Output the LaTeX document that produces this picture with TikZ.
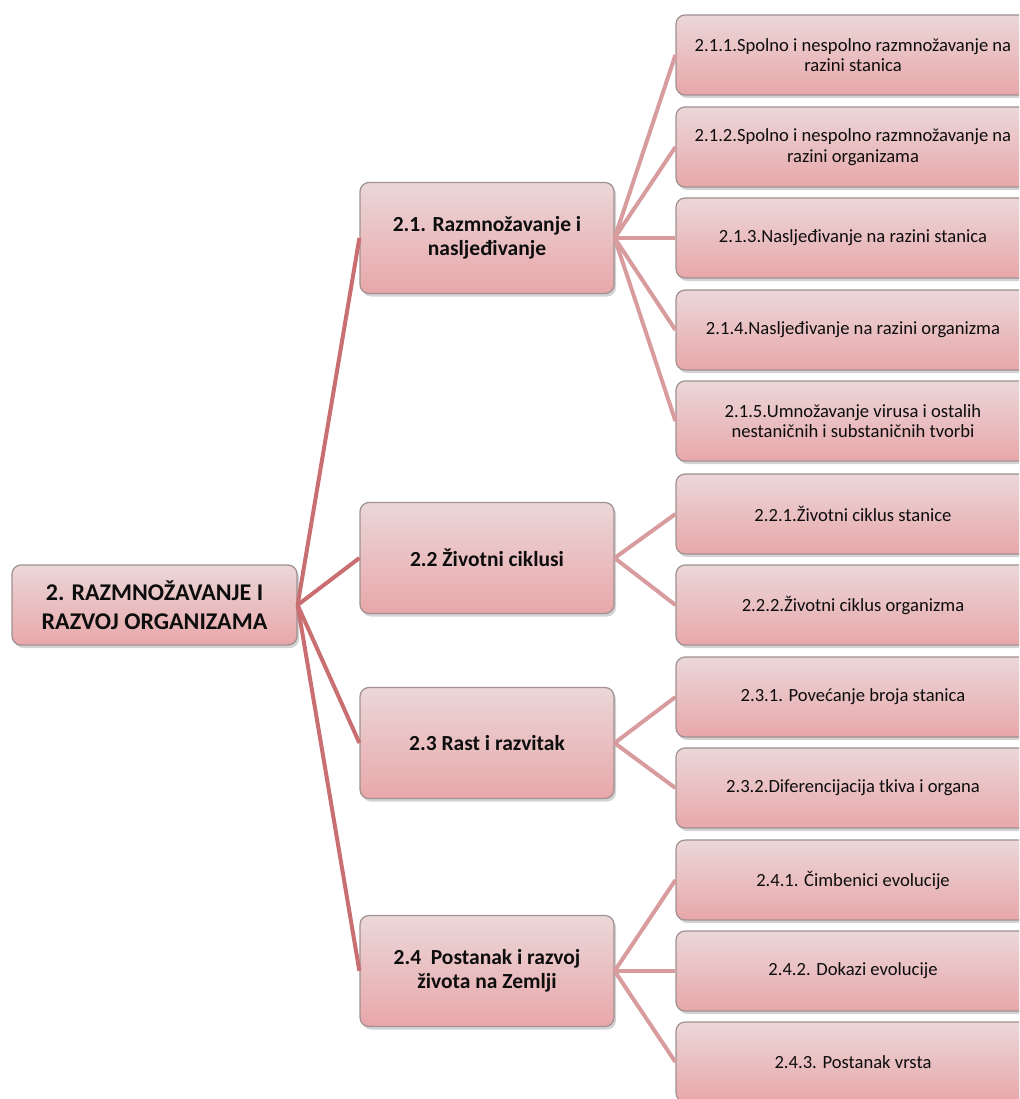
\documentclass[tikz,border=0pt]{standalone}
\usepackage{fontspec}
\setmainfont{Carlito}
\usetikzlibrary{shadows}
\definecolor{boxtop}{HTML}{EBD7D8}
\definecolor{boxbot}{HTML}{E8A7AA}
\definecolor{boxline}{HTML}{A09090}
\definecolor{mainline}{HTML}{C96E71}
\definecolor{subline}{HTML}{D89C9E}
\tikzset{
 box/.style={rectangle, rounded corners=9pt, draw=boxline, line width=1.2pt, top color=boxtop, bottom color=boxbot, drop shadow={shadow xshift=2pt, shadow yshift=-3pt, opacity=0.35, fill=gray}, align=center, inner sep=2pt, text=black!95},
 rootbox/.style={box, minimum width=285pt, minimum height=80pt, font=\fontsize{24}{29}\selectfont\bfseries},
 midbox/.style={box, minimum width=254pt, minimum height=111pt, font=\fontsize{21.5}{23.5}\selectfont\bfseries},
 leafbox/.style={box, minimum width=354pt, minimum height=80pt, font=\fontsize{18.6}{20.5}\selectfont},
 mainlink/.style={draw=mainline, line width=4pt},
 sublink/.style={draw=subline, line width=4pt},
}
\begin{document}
\begin{tikzpicture}[x=1pt,y=-1pt]
\useasboundingbox (0,0) rectangle (1019,1099);
\clip (0,0) rectangle (1019,1099);
\node[rootbox] (root) at (154.5,605) {2. RAZMNOŽAVANJE I\\RAZVOJ ORGANIZAMA};
\node[midbox] (m1) at (487,238) {2.1. Razmnožavanje i\\nasljeđivanje};
\node[midbox] (m2) at (487,558) {2.2 Životni ciklusi};
\node[midbox] (m3) at (487,743) {2.3 Rast i razvitak};
\node[midbox] (m4) at (487,971) {2.4\ \ Postanak i razvoj\\života na Zemlji};
\node[leafbox] (l11) at (853,55) {2.1.1.Spolno i nespolno razmnožavanje na\\razini stanica};
\node[leafbox] (l12) at (853,147) {2.1.2.Spolno i nespolno razmnožavanje na\\razini organizama};
\node[leafbox] (l13) at (853,238) {2.1.3.Nasljeđivanje na razini stanica};
\node[leafbox] (l14) at (853,330) {2.1.4.Nasljeđivanje na razini organizma};
\node[leafbox] (l15) at (853,421) {2.1.5.Umnožavanje virusa i ostalih\\nestaničnih i substaničnih tvorbi};
\node[leafbox] (l21) at (853,514) {2.2.1.Životni ciklus stanice};
\node[leafbox] (l22) at (853,605) {2.2.2.Životni ciklus organizma};
\node[leafbox] (l31) at (853,697) {2.3.1. Povećanje broja stanica};
\node[leafbox] (l32) at (853,788) {2.3.2.Diferencijacija tkiva i organa};
\node[leafbox] (l41) at (853,880) {2.4.1. Čimbenici evolucije};
\node[leafbox] (l42) at (853,971) {2.4.2. Dokazi evolucije};
\node[leafbox] (l43) at (853,1062) {2.4.3. Postanak vrsta};
\foreach \m in {m1,m2,m3,m4} \draw[mainlink] (root.east) -- (\m.west);
\foreach \l in {l11,l12,l13,l14,l15} \draw[sublink] (m1.east) -- (\l.west);
\foreach \l in {l21,l22} \draw[sublink] (m2.east) -- (\l.west);
\foreach \l in {l31,l32} \draw[sublink] (m3.east) -- (\l.west);
\foreach \l in {l41,l42,l43} \draw[sublink] (m4.east) -- (\l.west);
\end{tikzpicture}
\end{document}
